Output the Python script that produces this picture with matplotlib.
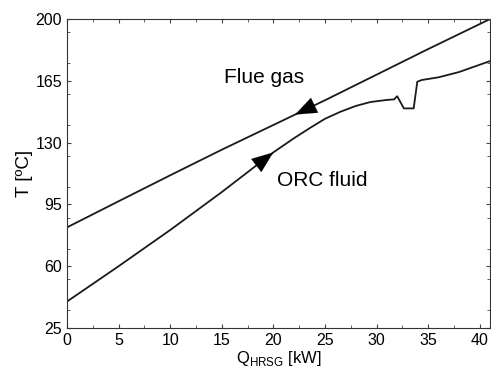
import numpy as np
import matplotlib.pyplot as plt
from matplotlib.ticker import MultipleLocator

plt.rcParams['font.family'] = ['Liberation Sans', 'DejaVu Sans']

# flue gas (cooling, flows right to left)
gas_q = [0, 5, 10, 15, 20, 25, 30, 35, 41]
gas_t = [82.0, 96.8, 111.5, 126.0, 140.0, 154.0, 168.5, 183.0, 200.0]

# ORC fluid (heating, flows left to right)
orc_q = [0, 5, 10, 15, 20, 22, 23.6, 25, 26.5, 28, 29.4, 31, 31.7, 32.0,
         32.65, 33.6, 33.95, 34.4, 36, 38, 41]
orc_t = [40.0, 60.0, 80.5, 102.0, 124.5, 132.5, 138.5, 143.5, 147.5, 150.8, 153.0,
         154.2, 154.5, 156.3, 149.4, 149.4, 164.5, 165.5, 167.0, 170.0, 176.2]

x_ticks = [0, 5, 10, 15, 20, 25, 30, 35, 40]
y_ticks = [25, 60, 95, 130, 165, 200]


def arrow(ax, qs, ts, q_from, q_to):
    t_from = np.interp(q_from, qs, ts)
    t_to = np.interp(q_to, qs, ts)
    ax.annotate('', xy=(q_to, t_to), xytext=(q_from, t_from),
                arrowprops=dict(arrowstyle='-|>,head_length=0.7,head_width=0.27',
                                color='black', mutation_scale=22, lw=0.1,
                                shrinkA=0, shrinkB=0))


fig = plt.figure(figsize=(4.91, 3.74), dpi=100)
ax = fig.add_axes([0.1365, 0.123, 0.8615, 0.826])

ax.plot(gas_q, gas_t, color='#1a1a1a', lw=1.3)
ax.plot(orc_q, orc_t, color='#1a1a1a', lw=1.3)

arrow(ax, gas_q, gas_t, 24.0, 22.1)
arrow(ax, orc_q, orc_t, 18.2, 20.0)

ax.text(19.1, 167, 'Flue gas', fontsize=15, ha='center', va='center')
ax.text(20.4, 108.5, 'ORC fluid', fontsize=15, ha='left', va='center')

ax.set_xlim(0, 41)
ax.set_ylim(25, 200)
ax.set_xticks(x_ticks)
ax.set_yticks(y_ticks)
ax.xaxis.set_minor_locator(MultipleLocator(2.5))
ax.yaxis.set_minor_locator(MultipleLocator(17.5))
ax.tick_params(which='both', direction='in', top=True, right=True,
               labelsize=11.5, color='#444444')
ax.tick_params(which='major', length=3)
ax.tick_params(which='minor', length=2)
for s in ax.spines.values():
    s.set_linewidth(0.8)
    s.set_color('#333333')

ax.set_xlabel(r'Q$_{\mathregular{HRSG}}$ [kW]', fontsize=12, labelpad=1)
ax.set_ylabel('T [ºC]', fontsize=13.5, labelpad=2)

fig.savefig('out.png', dpi=100)
